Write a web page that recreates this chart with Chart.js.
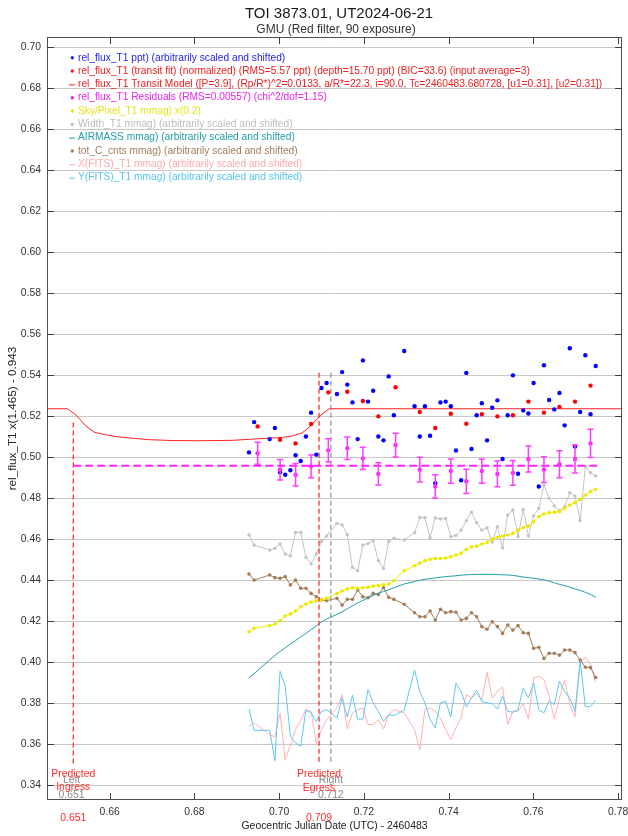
<!DOCTYPE html>
<html><head><meta charset="utf-8">
<script src="https://cdn.jsdelivr.net/npm/chart.js@4.4.1/dist/chart.umd.min.js"></script>
<style>html,body{margin:0;padding:0;background:#fff;}canvas{display:block;}</style>
</head><body>
<canvas id="c" width="628" height="836"></canvas>
<script>
// ---------- DATA ----------
const times = [0.69287,0.69409,0.69775,0.69898,0.70020,0.70142,0.70264,0.70386,0.70508,0.70630,0.70752,0.70875,0.70997,0.71119,
0.71363,0.71485,0.71607,0.71729,0.71852,0.71974,0.72096,0.72218,0.72340,0.72462,0.72584,0.72706,
0.72951,
0.73195,0.73317,0.73439,0.73561,0.73683,0.73805,0.73928,0.74050,0.74172,0.74294,0.74416,0.74538,0.74660,0.74782,0.74905,0.75027,0.75149,0.75271,0.75393,0.75515,0.75637,0.75759,0.75881,0.76004,0.76126,0.76248,0.76370,0.76492,0.76614,0.76736,0.76858,0.76981,0.77103,0.77225,0.77347,0.77469];

const fluxPpt = [0.5024,0.5172,0.5089,0.5143,0.4927,0.4915,0.4937,0.5010,0.4982,0.5102,0.5218,0.5013,0.5338,0.5363,
0.5309,0.5416,0.5355,0.5268,0.5089,0.5473,0.5272,0.5325,0.5102,0.5083,0.5395,0.5205,
0.5519,
0.5249,0.5102,0.5249,0.5105,0.4874,0.5268,0.5272,0.5249,0.5033,0.4888,0.5412,0.5041,0.5205,0.5264,0.5083,0.5242,0.5278,0.4992,0.5205,0.5400,0.4920,0.5229,0.5214,0.5363,0.4858,0.5449,0.5280,0.5234,0.5314,0.5156,0.5532,0.5053,0.5221,0.5498,0.5210,0.5446];

const binTimes = [0.69491,0.70020,0.70386,0.70752,0.71159,0.71607,0.71974,0.72340,0.72747,0.73317,0.73683,0.74050,0.74416,0.74782,0.75149,0.75515,0.75881,0.76248,0.76614,0.76981,0.77347];
const fluxFit = [0.5151,0.5086,0.5068,0.5163,0.5317,0.5320,0.5275,0.5200,0.5342,0.5221,0.5143,0.5213,0.5164,0.5210,0.5200,0.5205,0.5272,0.5218,0.5246,0.5272,0.5350];
const residuals = [0.5020,0.4940,0.4915,0.4956,0.5034,0.5044,0.4995,0.4919,0.5060,0.4940,0.4858,0.4933,0.4883,0.4933,0.4919,0.4924,0.4992,0.4940,0.4966,0.4992,0.5068];
const residErr = [0.0054,0.0050,0.0055,0.0056,0.0057,0.0055,0.0054,0.0054,0.0058,0.0060,0.0057,0.0059,0.0059,0.0059,0.0063,0.0060,0.0063,0.0063,0.0066,0.0068,0.0069];
const residBaseline = 0.4959;
const residLineT = [0.6514, 0.7756];

const modelTimes = [0.6452,0.6500,0.6520,0.6544,0.6564,0.6590,0.6616,0.6660,0.6694,0.6749,0.6809,0.6890,0.6937,0.7008,0.7030,0.7054,0.7074,0.7098,0.7118,0.7809];
const modelFlux  = [0.5237,0.5237,0.5208,0.5152,0.5122,0.5110,0.5101,0.5092,0.5086,0.5082,0.5081,0.5083,0.5089,0.5097,0.5104,0.5119,0.5152,0.5206,0.5237,0.5237];

const skyPixel = [0.4149,0.4166,0.4179,0.4187,0.4203,0.4226,0.4236,0.4251,0.4271,0.4284,0.4294,0.4301,0.4304,0.4312,
0.4336,0.4348,0.4358,0.4364,0.4361,0.4364,0.4366,0.4372,0.4374,0.4379,0.4382,0.4398,
0.4447,
0.4471,0.4483,0.4496,0.4502,0.4506,0.4506,0.4509,0.4515,0.4523,0.4532,0.4551,0.4564,0.4567,0.4577,0.4585,0.4600,0.4610,0.4616,0.4621,0.4629,0.4645,0.4658,0.4665,0.4686,0.4711,0.4724,0.4730,0.4732,0.4735,0.4751,0.4767,0.4779,0.4795,0.4816,0.4833,0.4844];

const widthT1 = [0.4621,0.4572,0.4548,0.4556,0.4577,0.4528,0.4519,0.4634,0.4634,0.4512,0.4480,0.4528,0.4589,0.4616,
0.4678,0.4670,0.4624,0.4463,0.4447,0.4572,0.4580,0.4593,0.4496,0.4458,0.4589,0.4605,
0.4597,
0.4632,0.4707,0.4706,0.4608,0.4704,0.4699,0.4702,0.4613,0.4619,0.4645,0.4691,0.4732,0.4681,0.4645,0.4657,0.4587,0.4662,0.4558,0.4719,0.4743,0.4613,0.4746,0.4616,0.4714,0.4751,0.4865,0.4800,0.4763,0.4740,0.4759,0.4828,0.4811,0.4691,0.4955,0.4925,0.4909];

const airmass = [0.3925,0.3945,0.4012,0.4033,0.4053,0.4071,0.4089,0.4106,0.4124,0.4141,0.4160,0.4178,0.4197,0.4211,
0.4234,0.4246,0.4261,0.4275,0.4290,0.4302,0.4314,0.4326,0.4337,0.4345,0.4354,0.4364,
0.4382,
0.4394,0.4400,0.4405,0.4408,0.4412,0.4415,0.4418,0.4420,0.4422,0.4425,0.4427,0.4428,0.4429,0.4429,0.4429,0.4429,0.4428,0.4427,0.4426,0.4424,0.4420,0.4416,0.4413,0.4410,0.4406,0.4402,0.4396,0.4388,0.4380,0.4374,0.4367,0.4358,0.4351,0.4341,0.4331,0.4317];

const totCnts = [0.4431,0.4401,0.4426,0.4413,0.4410,0.4418,0.4377,0.4401,0.4361,0.4361,0.4336,0.4320,0.4304,0.4301,
0.4312,0.4279,0.4307,0.4307,0.4353,0.4320,0.4315,0.4336,0.4331,0.4364,0.4317,0.4307,
0.4283,
0.4242,0.4222,0.4222,0.4250,0.4206,0.4258,0.4242,0.4247,0.4244,0.4206,0.4214,0.4242,0.4222,0.4174,0.4161,0.4198,0.4174,0.4141,0.4182,0.4157,0.4179,0.4144,0.4141,0.4068,0.4073,0.4019,0.4044,0.4044,0.4035,0.4060,0.4060,0.4047,0.4011,0.3976,0.3974,0.3926];

const xFits = [0.3688,0.3704,0.3647,0.3636,0.3753,0.3522,0.3598,0.3671,0.3717,0.3769,0.3761,0.3606,0.3671,0.3720,
0.3777,0.3842,0.3675,0.3753,0.3769,0.3777,0.3696,0.3696,0.3720,0.3675,0.3745,0.3769,
0.3753,
0.3671,0.3571,0.3769,0.3777,0.3761,0.3728,0.3671,0.3623,0.3680,0.3733,0.3842,0.3826,0.3847,0.3815,0.3951,0.3826,0.3858,0.3880,0.3696,0.3761,0.3761,0.3798,0.3723,0.3924,0.3932,0.3915,0.3834,0.3723,0.3826,0.3915,0.3793,0.3733,0.3997,0.4026,0.3989,0.3902];

const yFits = [0.3772,0.3668,0.3668,0.3520,0.3956,0.3883,0.3639,0.3606,0.3590,0.3766,0.3753,0.3712,0.3761,0.3769,
0.3728,0.3826,0.3733,0.3839,0.3723,0.3723,0.3867,0.3802,0.3761,0.3712,0.3745,0.3740,
0.3766,
0.3961,0.3858,0.3802,0.3720,0.3680,0.3802,0.3810,0.3733,0.3899,0.3858,0.3782,0.3826,0.3863,0.3810,0.3802,0.3798,0.3772,0.3834,0.3761,0.3756,0.3769,0.3875,0.3826,0.3899,0.3769,0.3753,0.3810,0.3793,0.3907,0.3858,0.3826,0.3761,0.4010,0.3782,0.3785,0.3815];

const ingressT = 0.6514, egressT = 0.7094, leftT = 0.651, rightT = 0.7122;
const ingressLabel = '0.651', egressLabel = '0.709', leftLabel = '0.651', rightLabel = '0.712';
const ingressLineY = [0.5170, 0.3505];
const egressLineY = [0.5413, 0.3505];

const xTickStep = 0.02, yTickStep = 0.02;
const XMIN = 0.6452, XMAX = 0.7809, YMIN = 0.3328, YMAX = 0.7051;

const titleText = 'TOI 3873.01, UT2024-06-21';
const subtitleText = 'GMU (Red filter, 90 exposure)';
const xTitle = 'Geocentric Julian Date (UTC) - 2460483';
const yTitle = 'rel_flux_T1 x(1.465) - 0.943';

const legendItems = [
 ['rel_flux_T1 ppt) (arbitrarily scaled and shifted)', '#2424e6', 'dot'],
 ['rel_flux_T1 (transit fit) (normalized) (RMS=5.57 ppt) (depth=15.70 ppt) (BIC=33.6) (input average=3)', '#ee2020', 'dot'],
 ['rel_flux_T1 Transit Model ([P=3.9], (Rp/R*)^2=0.0133, a/R*=22.3, i=90.0, Tc=2460483.680728, [u1=0.31], [u2=0.31])', '#ee2020', 'line'],
 ['rel_flux_T1 Residuals (RMS=0.00557) (chi^2/dof=1.15)', '#ee22ee', 'dot'],
 ['Sky/Pixel_T1 mmag) x(0.2)', '#e4e41a', 'dot'],
 ['Width_T1 mmag) (arbitrarily scaled and shifted)', '#bdbdbd', 'dot'],
 ['AIRMASS mmag) (arbitrarily scaled and shifted)', '#1f9eaa', 'line'],
 ['tot_C_cnts mmag) (arbitrarily scaled and shifted)', '#a47e5a', 'dot'],
 ['X(FITS)_T1 mmag) (arbitrarily scaled and shifted)', '#ffaaaa', 'line'],
 ['Y(FITS)_T1 mmag) (arbitrarily scaled and shifted)', '#55c4ee', 'line']
];

// ---------- CHART ----------
const FONT = "'Liberation Sans', Arial, Helvetica, sans-serif";
Chart.defaults.font.family = FONT;
const pts = (xs, ys) => xs.map((x, i) => ({x: x, y: ys[i]}));

const decor = {
  id: 'decor',
  afterDatasetsDraw(chart) {
    const c = chart.ctx, xs = chart.scales.x, ys = chart.scales.y;
    c.save();
    c.strokeStyle = '#ff3cff'; c.lineWidth = 1.5;
    binTimes.forEach((t, i) => {
      const x = xs.getPixelForValue(t);
      const y1 = ys.getPixelForValue(residuals[i] + residErr[i]);
      const y2 = ys.getPixelForValue(residuals[i] - residErr[i]);
      c.beginPath();
      c.moveTo(x, y1); c.lineTo(x, y2);
      c.moveTo(x - 3, y1); c.lineTo(x + 3, y1);
      c.moveTo(x - 3, y2); c.lineTo(x + 3, y2);
      c.stroke();
    });
    c.restore();
  },
  afterDraw(chart) {
    const c = chart.ctx, a = chart.chartArea, xs = chart.scales.x, ys = chart.scales.y;
    c.save();
    c.strokeStyle = '#505050'; c.lineWidth = 1;
    c.strokeRect(Math.round(a.left) + 0.5, Math.round(a.top) + 0.5, Math.round(a.right - a.left) - 1, Math.round(a.bottom - a.top) - 1);
    c.strokeStyle = '#404040';
    c.beginPath();
    ys.ticks.forEach(t => {
      const y = Math.round(ys.getPixelForValue(t.value)) + 0.5;
      c.moveTo(a.left, y); c.lineTo(a.left + 7, y);
      c.moveTo(a.right, y); c.lineTo(a.right - 7, y);
    });
    xs.ticks.forEach(t => {
      const x = Math.round(xs.getPixelForValue(t.value)) + 0.5;
      c.moveTo(x, a.bottom); c.lineTo(x, a.bottom - 7);
      c.moveTo(x, a.top); c.lineTo(x, a.top + 7);
    });
    c.stroke();
    c.fillStyle = '#1a1a1a';
    c.textAlign = 'center'; c.textBaseline = 'alphabetic';
    c.font = '15px ' + FONT;
    c.fillText(titleText, 339, 18);
    c.fillStyle = '#333';
    c.font = '12px ' + FONT;
    c.fillText(subtitleText, 336, 33);
    c.font = '10.4px ' + FONT;
    c.textBaseline = 'middle';
    c.fillStyle = '#222';
    c.fillText(xTitle, (a.left + a.right) / 2, 826);
    c.save();
    c.translate(12.5, (a.top + a.bottom) / 2);
    c.rotate(-Math.PI / 2);
    c.font = '11.7px ' + FONT;
    c.fillText(yTitle, 0, 0);
    c.restore();
    c.textAlign = 'left'; c.textBaseline = 'middle';
    c.font = '10.2px ' + FONT;
    legendItems.forEach((it, i) => {
      const y = 57.7 + i * 13.33;
      c.fillStyle = it[1]; c.strokeStyle = it[1];
      if (it[2] === 'dot') {
        c.beginPath(); c.arc(72.3, y, 1.7, 0, Math.PI * 2); c.fill();
      } else {
        c.lineWidth = 1; c.beginPath(); c.moveTo(69, y + 0.5); c.lineTo(75, y + 0.5); c.stroke();
      }
      c.fillText(it[0], 78, y);
    });
    c.textAlign = 'center';
    c.font = '10.4px ' + FONT;
    c.fillStyle = '#8a8a8a';
    const xl = xs.getPixelForValue(leftT), xr = xs.getPixelForValue(rightT);
    c.fillText('Left', xl, 780.5); c.fillText(leftLabel, xl, 795.5);
    c.fillText('Right', xr, 780.5); c.fillText(rightLabel, xr, 795.5);
    c.fillStyle = '#ff2a2a';
    const xi = xs.getPixelForValue(ingressT), xe = xs.getPixelForValue(egressT);
    c.fillText('Predicted', xi, 774); c.fillText('Ingress', xi, 787.5);
    c.fillText('Predicted', xe, 774.5); c.fillText('Egress', xe, 788);
    c.fillText(ingressLabel, xi, 818); c.fillText(egressLabel, xe, 818.5);
    c.restore();
  }
};

const dotDS = (label, data, color, r, line, bw) => ({
  label, data, showLine: !!line, borderColor: color, backgroundColor: color,
  pointRadius: r, pointBorderWidth: 0, pointHoverRadius: r, borderWidth: bw || 1
});

new Chart(document.getElementById('c'), {
  type: 'scatter',
  data: {
    datasets: [
      dotDS('resid', pts(binTimes, residuals), '#ff22ff', 2.2, false),
      dotDS('fit', pts(binTimes, fluxFit), '#ff0000', 2.2, false),
      dotDS('flux', pts(times, fluxPpt), '#0000ff', 2.2, false),
      {label: 'model', data: pts(modelTimes, modelFlux), showLine: true, borderColor: '#ff2020', borderWidth: 1, pointRadius: 0},
      {label: 'base', data: pts(residLineT, [residBaseline, residBaseline]), showLine: true, borderColor: '#ff22ff', borderWidth: 2, borderDash: [8, 4], pointRadius: 0},
      {label: 'ingress', data: pts([ingressT, ingressT], ingressLineY), showLine: true, borderColor: '#ff2020', borderWidth: 1.2, borderDash: [5, 3], pointRadius: 0},
      {label: 'egress', data: pts([egressT, egressT], egressLineY), showLine: true, borderColor: '#ff2020', borderWidth: 1.2, borderDash: [5, 3], pointRadius: 0},
      {label: 'right', data: pts([rightT, rightT], egressLineY), showLine: true, borderColor: '#909090', borderWidth: 1.2, borderDash: [5, 3], pointRadius: 0},
      dotDS('sky', pts(times, skyPixel), '#eaea00', 1.8, true),
      {label: 'airmass', data: pts(times, airmass), showLine: true, borderColor: '#1f9eaa', borderWidth: 1, pointRadius: 0},
      dotDS('tot', pts(times, totCnts), '#a47e5a', 1.8, true),
      dotDS('width', pts(times, widthT1), '#c4c4c4', 1.7, true),
      {label: 'y', data: pts(times, yFits), showLine: true, borderColor: '#5cc8f2', borderWidth: 1, pointRadius: 0},
      {label: 'x', data: pts(times, xFits), showLine: true, borderColor: '#ffb0b0', borderWidth: 1, pointRadius: 0}
    ]
  },
  options: {
    responsive: false, animation: false, devicePixelRatio: 1,
    layout: {padding: {left: 0, top: 37, right: 6, bottom: 0}},
    plugins: {legend: {display: false}, tooltip: {enabled: false}, title: {display: false}},
    elements: {line: {tension: 0}},
    scales: {
      x: {
        type: 'linear', min: XMIN, max: XMAX,
        afterFit: s => { s.height = 36; s.paddingLeft = 0; s.paddingRight = 0; },
        grid: {display: false, drawTicks: false},
        border: {display: false},
        ticks: {stepSize: xTickStep, includeBounds: false, autoSkip: false, maxRotation: 0, padding: 6,
          color: '#333', font: {size: 10.4}, callback: v => v.toFixed(2)}
      },
      y: {
        type: 'linear', min: YMIN, max: YMAX,
        afterFit: s => { s.width = 47; s.paddingTop = 0; s.paddingBottom = 0; },
        grid: {color: '#c8c8c8', lineWidth: 1, drawTicks: false},
        border: {display: false},
        ticks: {stepSize: yTickStep, includeBounds: false, autoSkip: false, padding: 6,
          color: '#333', font: {size: 10.4}, callback: v => v.toFixed(2)}
      }
    }
  },
  plugins: [decor]
});
</script>
</body></html>
